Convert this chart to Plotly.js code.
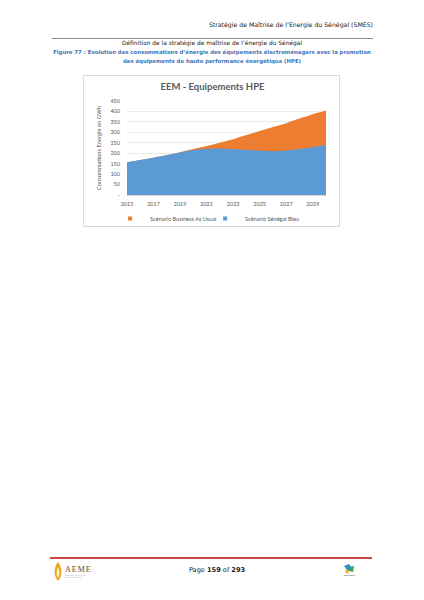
<!DOCTYPE html>
<html>
<head>
<meta charset="utf-8">
<script src="https://cdn.plot.ly/plotly-3.0.1.min.js"></script>
<style>
  body { margin: 0; background: #fff; }
  #page { position: relative; width: 424px; height: 600px; overflow: hidden; font-family: "DejaVu Sans", sans-serif; }
  .txt { position: absolute; white-space: nowrap; }
  #chart { position: absolute; left: 83px; top: 75px; width: 257px; height: 152px; border: 1px solid #d9d9d9; box-sizing: border-box; }
</style>
</head>
<body>
<div id="page">
  <div class="txt" style="right:51px; top:21px; font-size:6.2px; color:#222;">Stratégie de Maîtrise de l’Energie du Sénégal (SMES)</div>
  <div style="position:absolute; left:52px; top:38px; width:321px; height:1px; background:#8c8c8c;"></div>
  <div class="txt" style="left:0; width:424px; text-align:center; top:40px; font-size:5.9px; color:#222;">Définition de la stratégie de maîtrise de l’énergie du Sénégal</div>
  <div class="txt" style="left:0; width:424px; text-align:center; top:48px; font-size:5.35px; line-height:8.5px; color:#4472b8; font-weight:bold;">Figure 77 : Evolution des consommations d’énergie des équipements électroménagers avec la promotion<br>des équipements de haute performance énergétique (HPE)</div>

  <div id="chart"></div>

  <div style="position:absolute; left:50px; top:557px; width:322px; height:1.5px; background:#c9494a;"></div>
  <div class="txt" style="left:0; width:434px; text-align:center; top:566px; font-size:6.6px; color:#222;">Page <b>159</b> of <b>293</b></div>
  <svg style="position:absolute; left:52px; top:560px;" width="60" height="24">
    <path d="M6 2 C1 9 2 16 6 21 C10 16 11 9 6 2 Z" fill="#e8a21c"/>
    <path d="M6 7 C4 11 4 15 6 18 C8 15 8 11 6 7 Z" fill="#fff3c4"/>
    <text x="13" y="12" font-family="Liberation Serif, serif" font-size="8" fill="#5a4a2a" letter-spacing="1">AEME</text>
    <text x="13" y="15.5" font-family="DejaVu Sans" font-size="1.5" fill="#777">Agence pour l’Economie et</text>
    <text x="13" y="17.5" font-family="DejaVu Sans" font-size="1.5" fill="#777">la Maîtrise de l’Energie</text>
  </svg>
  <svg style="position:absolute; left:340px; top:562px;" width="20" height="16">
    <path d="M4 4 L9 2 L12 6 L8 9 Z" fill="#2b8fd0"/>
    <path d="M9 5 L14 4 L13 10 L9 9 Z" fill="#3aa655"/>
    <path d="M6 7 L9 9 L8 12 L5 10 Z" fill="#f0b323"/>
    <rect x="4" y="13" width="11" height="0.8" fill="#aaa"/>
  </svg>
</div>
<script>
// years and estimated consumption (GWh)
var years = [2015, 2016, 2017, 2018, 2019, 2020, 2021, 2022, 2023, 2024, 2025, 2026, 2027, 2028, 2029, 2030];
var bauValues = [156, 167, 178, 191, 205, 220, 234, 250, 267, 287, 306, 325, 344, 366, 387, 404];
var bleuValues = [156, 167, 178, 191, 204, 215, 221, 223, 220, 215, 212, 210, 213, 220, 229, 239];
var seriesNames = ['Scénario Business As Usual', 'Scénario Sénégal Bleu'];
var seriesColors = ['#ed7d31', '#5b9bd5'];
var tickYears = [2015, 2017, 2019, 2021, 2023, 2025, 2027, 2029];
var yTicks = [0, 50, 100, 150, 200, 250, 300, 350, 400, 450];
var yTickText = ['-', '50', '100', '150', '200', '250', '300', '350', '400', '450'];

var grey = '#595959';
var font = 'Lato, "Open Sans", sans-serif';

function areaTrace(values, i) {
    return {
        x: years,
        y: values,
        name: seriesNames[i],
        type: 'scatter',
        mode: 'lines',
        fill: 'tozeroy',
        fillcolor: seriesColors[i],
        line: { color: seriesColors[i], width: 0, shape: 'spline', smoothing: 0.8 },
        showlegend: false
    };
}

// small square keys like the Excel legend
function legendKey(i) {
    return {
        x: [null],
        y: [null],
        name: seriesNames[i],
        type: 'scatter',
        mode: 'markers',
        marker: { symbol: 'square', size: 4, color: seriesColors[i] }
    };
}

var traces = [areaTrace(bauValues, 0), areaTrace(bleuValues, 1), legendKey(0), legendKey(1)];

var layout = {
    width: 257,
    height: 152,
    margin: { l: 43, r: 15, t: 25, b: 33, autoexpand: false },
    paper_bgcolor: 'rgba(0,0,0,0)',
    plot_bgcolor: 'rgba(0,0,0,0)',
    font: { family: font, color: grey, size: 5.5 },
    title: {
        text: 'EEM - Equipements HPE',
        font: { family: font, size: 9.5, color: grey, weight: 'bold' },
        x: 0.5, xanchor: 'center', y: 0.93, yanchor: 'middle'
    },
    showlegend: true,
    legend: {
        orientation: 'h',
        x: -0.085, xanchor: 'left',
        y: -0.25, yanchor: 'middle',
        font: { family: font, size: 5.6, color: grey },
        itemwidth: 30,
        entrywidth: 50,
        traceorder: 'normal'
    },
    xaxis: {
        range: [2015, 2030],
        tickvals: tickYears,
        ticktext: tickYears.map(String),
        showgrid: false,
        showline: true,
        linecolor: '#d9d9d9',
        ticks: '',
        ticklabelstandoff: 3,
        automargin: false,
        tickfont: { family: font, size: 5.5, color: grey },
        fixedrange: true
    },
    yaxis: {
        range: [0, 450],
        tickvals: yTicks,
        ticktext: yTickText,
        gridcolor: '#e3e3e3',
        gridwidth: 0.7,
        zeroline: false,
        showline: false,
        ticks: '',
        ticklabelstandoff: 6,
        automargin: false,
        tickfont: { family: font, size: 5.5, color: grey },
        title: {
            text: 'Consommations Energie en GWh',
            font: { family: font, size: 5.8, color: grey },
            standoff: 8
        },
        fixedrange: true
    }
};

Plotly.newPlot('chart', traces, layout, { staticPlot: true, displayModeBar: false });
</script>
</body>
</html>
